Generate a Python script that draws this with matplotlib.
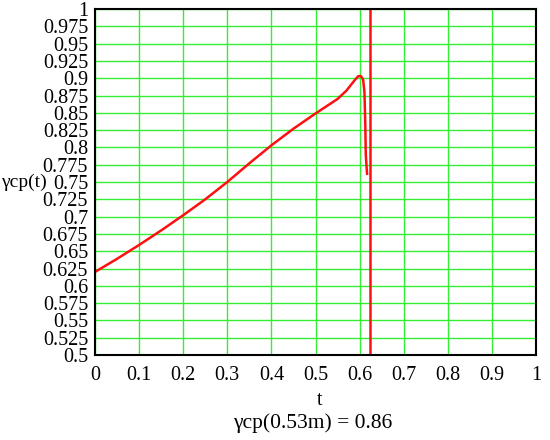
import matplotlib
matplotlib.use("Agg")
import matplotlib.pyplot as plt
import numpy as np

# data
t_vals = [0.0, 0.05, 0.1, 0.15, 0.2, 0.25, 0.3, 0.35, 0.4, 0.45, 0.5, 0.55,
          0.57, 0.58, 0.59, 0.597, 0.603, 0.608, 0.611, 0.613, 0.614, 0.616, 0.617]
gamma_vals = [0.620, 0.639, 0.659, 0.680, 0.702, 0.725, 0.750, 0.777, 0.803, 0.827,
              0.849, 0.870, 0.882, 0.890, 0.898, 0.903, 0.903, 0.898, 0.88, 0.83,
              0.79, 0.77, 0.762]
t_vline = 0.623
x_ticks = [0, 0.1, 0.2, 0.3, 0.4, 0.5, 0.6, 0.7, 0.8, 0.9, 1]
x_ticklabels = ["0", "0.1", "0.2", "0.3", "0.4", "0.5", "0.6", "0.7", "0.8", "0.9", "1"]
y_ticks = [0.5 + 0.025 * i for i in range(21)]
y_ticklabels = ["0.5", "0.525", "0.55", "0.575", "0.6", "0.625", "0.65", "0.675", "0.7",
                "0.725", "0.75", "0.775", "0.8", "0.825", "0.85", "0.875", "0.9",
                "0.925", "0.95", "0.975", "1"]
x_label = "t"
y_label = "γcp(t)"
bottom_text = "γcp(0.53m) = 0.86"

plt.rcParams['font.family'] = ['Liberation Serif', 'DejaVu Serif']

fig = plt.figure(figsize=(5.5, 4.4), dpi=100)
ax = fig.add_axes([95 / 550, 1 - 355 / 440, 441 / 550, 346 / 440])

ax.plot(t_vals, gamma_vals, color='#ff1010', lw=1.8)
ax.axvline(t_vline, color='#ff1010', lw=1.8)

ax.set_xlim(0, 1)
ax.set_ylim(0.5, 1)
ax.set_xticks(x_ticks)
ax.set_xticklabels(x_ticklabels)
ax.set_yticks(y_ticks)
ax.set_yticklabels(y_ticklabels)
ax.tick_params(length=0, labelsize=14.5, pad=5)
ax.tick_params(axis='x', pad=8)
ax.grid(True, color='#33ee33', lw=1.0)
ax.set_axisbelow(True)
for s in ax.spines.values():
    s.set_linewidth(1.5)
    s.set_color('black')

fig.text(320 / 550, 1 - 400 / 440, x_label, ha='center', va='center', fontsize=14.5)
fig.text(24 / 550, 1 - 182 / 440, y_label, ha='center', va='center', fontsize=14)
fig.text(313 / 550, 1 - 423 / 440, bottom_text, ha='center', va='center', fontsize=15.5)

fig.savefig("out.png", dpi=100)
